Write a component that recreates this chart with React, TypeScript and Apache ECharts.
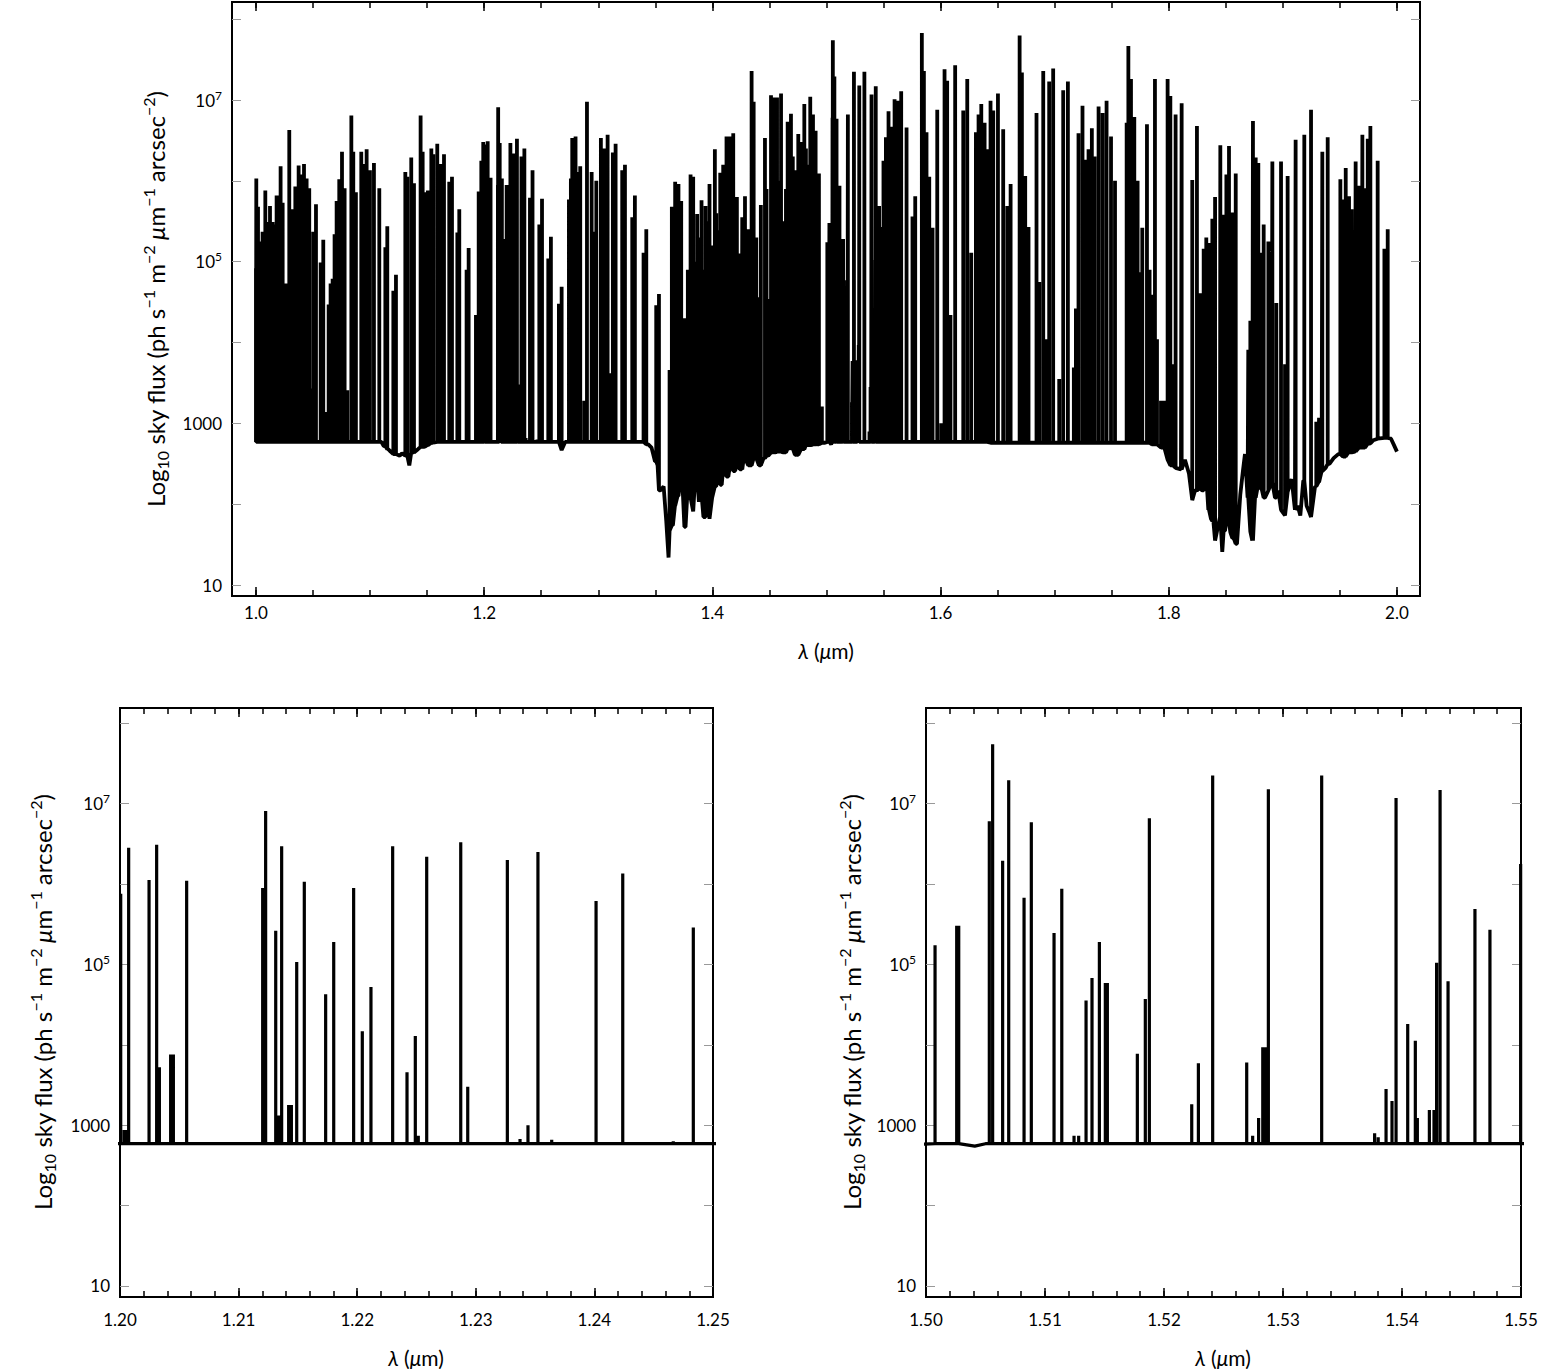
import React, { useEffect, useRef } from "react";
import * as echarts from "echarts";

// ---------- DATA (log10 of sky flux, wavelength in micron) ----------
// continuum / absorption envelope [lambda, log10 flux]
const CONTINUUM: [number, number][] = [
  [1.0, 2.77], [1.11, 2.77], [1.112, 2.72], [1.116, 2.68], [1.118, 2.65], [1.122, 2.62], [1.126, 2.6],
  [1.128, 2.63], [1.131, 2.6], [1.1344, 2.48], [1.137, 2.64], [1.142, 2.68], [1.146, 2.71], [1.15, 2.73],
  [1.155, 2.76], [1.16, 2.77], [1.266, 2.77], [1.2685, 2.67], [1.271, 2.77], [1.34, 2.77], [1.3438, 2.74],
  [1.3467, 2.7], [1.3497, 2.53], [1.352, 2.48], [1.3543, 2.17], [1.3573, 2.22], [1.3596, 1.79], [1.3616, 1.34],
  [1.3631, 1.67], [1.3654, 1.74], [1.3672, 1.98], [1.3695, 2.1], [1.3719, 2.36], [1.3742, 2.12], [1.3765, 1.72],
  [1.3789, 2.24], [1.3812, 2.08], [1.3836, 1.91], [1.3859, 2.34], [1.3882, 2.03], [1.3906, 2.12], [1.3929, 1.84],
  [1.3952, 2.05], [1.3976, 1.82], [1.3999, 2.08], [1.4023, 2.22], [1.4046, 2.4], [1.4069, 2.24], [1.4098, 2.45],
  [1.4128, 2.34], [1.4157, 2.48], [1.4186, 2.41], [1.4221, 2.53], [1.4256, 2.43], [1.4291, 2.57], [1.4326, 2.48],
  [1.4367, 2.57], [1.4408, 2.48], [1.4449, 2.57], [1.449, 2.6], [1.4537, 2.64], [1.4583, 2.65], [1.463, 2.64],
  [1.4683, 2.69], [1.4735, 2.61], [1.4782, 2.68], [1.484, 2.73], [1.4914, 2.74], [1.4987, 2.76], [1.502, 2.77],
  [1.5041, 2.74], [1.505, 2.77], [1.78, 2.76], [1.7879, 2.74], [1.7938, 2.7], [1.7996, 2.55], [1.8025, 2.48],
  [1.806, 2.45], [1.8107, 2.43], [1.8142, 2.55], [1.8177, 2.38], [1.8206, 2.05], [1.823, 2.17], [1.8265, 2.19],
  [1.8294, 2.17], [1.8323, 2.34], [1.8347, 1.93], [1.837, 1.82], [1.8391, 1.79], [1.8408, 1.55], [1.8428, 1.7],
  [1.8449, 1.84], [1.8469, 1.41], [1.8493, 1.67], [1.8516, 1.79], [1.854, 1.65], [1.8569, 1.58], [1.8598, 1.51],
  [1.8627, 2.12], [1.865, 2.41], [1.8668, 2.62], [1.8691, 2.08], [1.8715, 1.66], [1.8732, 1.55], [1.8756, 2.08],
  [1.8785, 2.26], [1.8814, 2.19], [1.8843, 2.08], [1.8873, 2.17], [1.8902, 2.27], [1.8931, 2.08], [1.896, 2.17],
  [1.8989, 1.93], [1.9019, 1.86], [1.9048, 2.15], [1.9077, 2.31], [1.9106, 1.93], [1.913, 1.98], [1.9153, 1.86],
  [1.9179, 2.29], [1.9208, 1.98], [1.9229, 1.91], [1.9252, 1.84], [1.9282, 2.22], [1.9311, 2.27], [1.934, 2.41],
  [1.9375, 2.45], [1.941, 2.5], [1.9445, 2.57], [1.9486, 2.62], [1.953, 2.59], [1.9574, 2.64], [1.9632, 2.65],
  [1.9691, 2.7], [1.9749, 2.75], [1.9793, 2.79], [1.9837, 2.81], [1.9895, 2.82], [1.9948, 2.81], [1.9971, 2.74],
  [2.0, 2.65],
];

// emission lines over the full range outside the two zoom windows [lambda, peak log10 flux]
const TOP_LINES: [number, number][] = [
  [1.0, 4.92], [1.0003, 6.03], [1.0018, 5.68], [1.0035, 5.25], [1.0058, 5.37], [1.0082, 5.88], [1.0099, 5.49],
  [1.0123, 5.69], [1.0146, 5.49], [1.0164, 5.46], [1.0181, 5.82], [1.0199, 5.82], [1.0216, 6.18], [1.0234, 5.73],
  [1.0263, 4.73], [1.0292, 6.63], [1.0321, 5.65], [1.0345, 5.93], [1.0374, 6.19], [1.0391, 6.08], [1.0421, 6.21],
  [1.0444, 6.03], [1.0467, 5.91], [1.0491, 3.43], [1.0502, 5.37], [1.0526, 5.71], [1.0567, 4.99], [1.059, 5.27],
  [1.0613, 3.14], [1.0637, 4.47], [1.0654, 4.73], [1.0672, 4.79], [1.0689, 5.34], [1.0707, 5.75], [1.073, 6.02],
  [1.0754, 6.36], [1.0777, 5.91], [1.08, 3.41], [1.0836, 6.81], [1.0853, 6.36], [1.0876, 5.86], [1.0923, 6.36],
  [1.0947, 6.21], [1.097, 6.39], [1.0999, 6.13], [1.1034, 6.22], [1.1081, 5.91], [1.1134, 5.18], [1.1151, 5.44],
  [1.1204, 4.64], [1.1227, 4.84], [1.1309, 6.11], [1.1326, 6.05], [1.1361, 6.29], [1.1385, 5.97], [1.1443, 6.81],
  [1.1461, 6.36], [1.1478, 5.86], [1.1507, 5.88], [1.1537, 6.4], [1.1554, 6.33], [1.1589, 6.46], [1.1618, 6.21],
  [1.1648, 6.33], [1.1694, 5.99], [1.1718, 6.05], [1.1765, 5.36], [1.1782, 5.65], [1.1846, 4.9], [1.1864, 5.17],
  [1.1928, 4.34], [1.1952, 5.87], [1.1975, 6.25], [1.1992, 6.48],
  [1.2507, 5.78], [1.2562, 5.04], [1.2585, 5.31], [1.2655, 4.48], [1.2679, 4.69], [1.2743, 5.77], [1.276, 6.03],
  [1.2772, 6.53], [1.2801, 6.55], [1.2825, 6.11], [1.2842, 6.18], [1.2877, 3.28], [1.2901, 6.98], [1.2942, 6.11],
  [1.2959, 5.37], [1.2983, 6.0], [1.3023, 6.53], [1.3053, 6.4], [1.3082, 6.57], [1.3105, 3.62], [1.3128, 6.35],
  [1.3152, 6.46], [1.321, 6.13], [1.3234, 6.2], [1.3298, 5.55], [1.3321, 5.82], [1.3397, 5.11], [1.3421, 5.4],
  [1.3508, 4.46], [1.3532, 4.6], [1.3625, 3.66], [1.3645, 5.68], [1.3674, 5.99], [1.3703, 5.96], [1.3727, 5.75],
  [1.3755, 4.3], [1.3785, 4.9], [1.3809, 6.08], [1.3832, 6.05], [1.385, 5.0], [1.3867, 5.59], [1.3885, 5.3],
  [1.3905, 5.76], [1.3922, 4.9], [1.394, 5.69], [1.3958, 5.5], [1.3975, 5.96], [1.3998, 5.2], [1.4022, 6.39],
  [1.4034, 5.6], [1.4045, 5.39], [1.4069, 6.1], [1.4082, 5.3], [1.4095, 6.2], [1.411, 5.9], [1.4124, 6.55],
  [1.414, 5.6], [1.4154, 6.55], [1.417, 5.8], [1.4183, 6.59], [1.42, 5.5], [1.4215, 5.8], [1.424, 5.1],
  [1.4262, 5.55], [1.4275, 5.0], [1.4286, 5.81], [1.4315, 5.4], [1.4344, 7.36], [1.4362, 6.98], [1.4385, 5.3],
  [1.4408, 4.56], [1.4425, 5.7], [1.4461, 6.53], [1.4475, 5.9], [1.449, 4.54], [1.4514, 7.06], [1.453, 6.2],
  [1.4543, 7.03], [1.4555, 6.4], [1.4567, 7.03], [1.4585, 6.0], [1.4602, 7.08], [1.4615, 5.5], [1.463, 4.18],
  [1.4645, 5.9], [1.466, 6.73], [1.4675, 6.1], [1.4689, 6.83], [1.4705, 6.3], [1.4724, 6.13], [1.474, 5.6],
  [1.4753, 6.58], [1.4777, 6.48], [1.4792, 5.9], [1.4806, 6.95], [1.482, 6.4], [1.4835, 6.2], [1.4858, 7.04],
  [1.487, 5.9], [1.4882, 6.82], [1.4905, 6.62], [1.492, 5.4], [1.4934, 6.09], [1.496, 3.21],
  [1.5521, 6.54], [1.5544, 6.86], [1.5568, 6.67], [1.5597, 7.01], [1.5626, 6.99], [1.5655, 7.11], [1.5702, 6.66],
  [1.5754, 5.56], [1.5778, 5.81], [1.5836, 7.83], [1.5854, 7.36], [1.5877, 6.6], [1.5901, 6.05], [1.593, 5.42],
  [1.5971, 6.88], [1.6006, 3.0], [1.6035, 7.38], [1.6058, 7.24], [1.6087, 4.34], [1.6128, 7.43], [1.6199, 6.87],
  [1.6234, 7.26], [1.6269, 5.11], [1.631, 6.6], [1.6333, 6.82], [1.6357, 6.95], [1.6386, 6.72], [1.6409, 6.39],
  [1.6438, 6.99], [1.6462, 6.87], [1.6503, 7.08], [1.6549, 6.64], [1.6585, 5.69], [1.6614, 5.96], [1.6693, 7.8],
  [1.6713, 7.34], [1.6742, 6.06], [1.6771, 5.43], [1.6841, 6.84], [1.6865, 4.75], [1.69, 7.36], [1.6929, 4.04],
  [1.6952, 7.23], [1.6987, 7.39], [1.704, 3.55], [1.7075, 7.12], [1.7116, 7.23], [1.7168, 3.69], [1.7186, 4.42],
  [1.7209, 6.59], [1.7244, 6.93], [1.7273, 6.26], [1.7297, 6.39], [1.7326, 6.65], [1.735, 6.3], [1.7385, 6.92],
  [1.742, 6.84], [1.7455, 6.99], [1.7494, 6.55], [1.7529, 6.0], [1.7631, 6.72], [1.7646, 7.67], [1.7669, 7.26],
  [1.7698, 6.79], [1.7727, 6.0], [1.7745, 4.87], [1.7768, 5.42], [1.7809, 6.7], [1.7832, 4.9], [1.785, 4.59],
  [1.7879, 7.26], [1.7897, 4.04], [1.7932, 3.28], [1.7961, 3.28], [1.799, 7.26], [1.8014, 7.05], [1.8037, 3.73],
  [1.806, 6.82], [1.8113, 6.96], [1.8206, 6.01], [1.8247, 6.68], [1.8277, 4.61], [1.8306, 5.16], [1.8329, 5.3],
  [1.8353, 5.23], [1.8382, 5.53], [1.8406, 5.8], [1.8452, 6.44], [1.8481, 5.58], [1.8505, 6.08], [1.8528, 6.43],
  [1.8557, 5.61], [1.8587, 6.09], [1.8697, 3.91], [1.8715, 4.27], [1.8738, 6.74], [1.8762, 6.29], [1.8785, 6.22],
  [1.8803, 5.11], [1.8832, 5.46], [1.8873, 5.25], [1.8908, 6.24], [1.8943, 4.49], [1.8984, 6.24], [1.9019, 3.73],
  [1.9042, 6.06], [1.9112, 6.51], [1.9188, 6.57], [1.9247, 6.88], [1.9293, 3.02], [1.9317, 3.07], [1.9346, 6.36],
  [1.9393, 6.54], [1.9504, 6.02], [1.9527, 5.77], [1.9551, 6.16], [1.958, 5.81], [1.9603, 5.65], [1.9638, 6.24],
  [1.9668, 5.94], [1.9697, 6.57], [1.972, 5.91], [1.9744, 6.52], [1.9767, 6.68], [1.9831, 6.25], [1.989, 5.16],
  [1.9919, 5.4],
];

// lines inside the J window 1.20–1.25 micron
const J_LINES: [number, number][] = [
  [1.20006, 5.88], [1.20035, 2.94], [1.2005, 2.94], [1.20073, 6.45], [1.20245, 6.05], [1.20309, 6.49],
  [1.20332, 3.72], [1.20427, 3.88], [1.2045, 3.88], [1.20562, 6.04], [1.21203, 5.95], [1.21228, 6.91],
  [1.21313, 5.42], [1.21338, 3.12], [1.21363, 6.47], [1.21422, 3.25], [1.21445, 3.25], [1.2149, 5.03],
  [1.21554, 6.03], [1.21734, 4.63], [1.21802, 5.28], [1.2197, 5.95], [1.22043, 4.17], [1.22116, 4.72],
  [1.22299, 6.47], [1.2242, 3.66], [1.2249, 4.11], [1.22515, 2.87], [1.22586, 6.34], [1.22873, 6.52],
  [1.22932, 3.48], [1.23266, 6.3], [1.23373, 2.83], [1.2344, 3.0], [1.23524, 6.4], [1.2364, 2.82],
  [1.24014, 5.79], [1.24239, 6.13], [1.24665, 2.8], [1.24834, 5.46],
];

// lines inside the H window 1.50–1.55 micron
const H_LINES: [number, number][] = [
  [1.50076, 5.24], [1.50258, 5.48], [1.50275, 5.48], [1.50532, 6.78], [1.5056, 7.74], [1.50644, 6.29],
  [1.50695, 7.29], [1.50824, 5.83], [1.50885, 6.77], [1.51076, 5.39], [1.51141, 5.94], [1.51244, 2.87],
  [1.51283, 2.87], [1.51345, 4.55], [1.51395, 4.83], [1.51457, 5.28], [1.51507, 4.77], [1.51524, 4.77],
  [1.51776, 3.89], [1.51843, 4.57], [1.51877, 6.82], [1.52233, 3.26], [1.52289, 3.77], [1.52409, 7.35],
  [1.52695, 3.78], [1.52745, 2.87], [1.52795, 3.09], [1.5283, 3.97], [1.52857, 3.97], [1.52877, 7.18],
  [1.53325, 7.35], [1.5377, 2.9], [1.538, 2.85], [1.53866, 3.45], [1.53916, 3.3], [1.5395, 7.07],
  [1.54048, 4.26], [1.54112, 4.05], [1.54129, 3.09], [1.5423, 3.19], [1.54269, 3.19], [1.54291, 5.02],
  [1.5432, 7.17], [1.54387, 4.79], [1.54613, 5.69], [1.54739, 5.43], [1.54997, 6.25],
];

// axis ticks / labels
const TOP_X_LABELS = [1.0, 1.2, 1.4, 1.6, 1.8, 2.0];
const TOP_X_MINOR = [1.0, 1.05, 1.1, 1.15, 1.2, 1.25, 1.3, 1.35, 1.4, 1.45, 1.5, 1.55, 1.6, 1.65, 1.7, 1.75, 1.8, 1.85, 1.9, 1.95, 2.0];
const J_X_LABELS = [1.2, 1.21, 1.22, 1.23, 1.24, 1.25];
const J_X_MINOR = [1.2, 1.202, 1.204, 1.206, 1.208, 1.21, 1.212, 1.214, 1.216, 1.218, 1.22, 1.222, 1.224, 1.226, 1.228, 1.23, 1.232, 1.234, 1.236, 1.238, 1.24, 1.242, 1.244, 1.246, 1.248, 1.25];
const H_X_LABELS = [1.5, 1.51, 1.52, 1.53, 1.54, 1.55];
const H_X_MINOR = [1.5, 1.502, 1.504, 1.506, 1.508, 1.51, 1.512, 1.514, 1.516, 1.518, 1.52, 1.522, 1.524, 1.526, 1.528, 1.53, 1.532, 1.534, 1.536, 1.538, 1.54, 1.542, 1.544, 1.546, 1.548, 1.55];
const Y_TICKS = [1, 2, 3, 4, 5, 6, 7, 8];
const Y_LABELS = [1, 3, 5, 7];

const FONT = 'Lato, "Open Sans", "DejaVu Sans", sans-serif';

function buildSpectrum(): [number, number][] {
  const baseAt = (l: number) => {
    let best = CONTINUUM[0];
    for (const c of CONTINUUM) if (Math.abs(c[0] - l) < Math.abs(best[0] - l)) best = c;
    return best[1];
  };
  const entries: { l: number; pts: [number, number][] }[] = [];
  for (const c of CONTINUUM) entries.push({ l: c[0], pts: [[c[0], c[1]]] });
  for (const [l, p] of [...TOP_LINES, ...J_LINES, ...H_LINES]) {
    const b = baseAt(l);
    entries.push({ l, pts: [[l, b], [l, p], [l, b]] });
  }
  entries.sort((a, b) => a.l - b.l);
  const out: [number, number][] = [];
  for (const e of entries) for (const p of e.pts) out.push(p);
  return out;
}

const Y_TITLE =
  "{n|Log}{sub|10}{n| sky flux (ph s}{sup|−1}{n| m}{sup|−2}{i| μ}{n|m}{sup|−1}{n| arcsec}{sup|−2}{n|)}";
const X_TITLE = "{i|λ}{n| (}{i|μ}{n|m)}";

const titleRich = (size: number) => ({
  n: { fontSize: size, fontFamily: FONT, fill: "#000", lineHeight: size + 6 },
  i: { fontSize: size, fontFamily: FONT, fontStyle: "italic", fill: "#000", lineHeight: size + 6 },
  sup: { fontSize: Math.round(size * 0.65), fontFamily: FONT, fill: "#000", verticalAlign: "top", lineHeight: Math.round(size * 0.65) },
  sub: { fontSize: Math.round(size * 0.65), fontFamily: FONT, fill: "#000", verticalAlign: "bottom", lineHeight: Math.round(size * 0.65) },
});

export default function App() {
  const ref = useRef<HTMLDivElement>(null);
  useEffect(() => {
    if (!ref.current) return;
    const chart = echarts.init(ref.current, undefined, { renderer: "svg" });
    const spectrum = buildSpectrum();

    const grids = [
      { left: 232, top: 2, width: 1188, height: 594, x: [0.979, 2.0202], y: [0.864, 8.213], labels: TOP_X_LABELS, minor: TOP_X_MINOR, dec: 1, margin: 8, lw: 3.8 },
      { left: 120, top: 708, width: 593, height: 589, x: [1.2, 1.25], y: [0.863, 8.19], labels: J_X_LABELS, minor: J_X_MINOR, dec: 2, margin: 14, lw: 3.2 },
      { left: 926, top: 708, width: 595, height: 589, x: [1.5, 1.55], y: [0.863, 8.19], labels: H_X_LABELS, minor: H_X_MINOR, dec: 2, margin: 14, lw: 3.2 },
    ];

    const xAxis: any[] = [];
    const yAxis: any[] = [];
    const series: any[] = [];
    grids.forEach((g, gi) => {
      const cx = { type: "value", gridIndex: gi, min: g.x[0], max: g.x[1], splitLine: { show: false }, axisLine: { show: false } };
      const tick = (vals: number[], len: number) => ({ show: true, inside: true, length: len, customValues: vals, lineStyle: { color: "#000", width: 1.5 } });
      xAxis.push({
        ...cx, position: "bottom", axisTick: tick(g.labels, 9),
        axisLabel: { show: true, customValues: g.labels, margin: g.margin, formatter: (v: number) => v.toFixed(g.dec), fontSize: 17, fontFamily: FONT, color: "#000" },
      });
      xAxis.push({ ...cx, position: "bottom", axisTick: tick(g.minor, 6), axisLabel: { show: false } });
      xAxis.push({ ...cx, position: "top", axisTick: tick(g.labels, 9), axisLabel: { show: false } });
      xAxis.push({ ...cx, position: "top", axisTick: tick(g.minor, 6), axisLabel: { show: false } });
      const cy = {
        type: "value", gridIndex: gi, min: g.y[0], max: g.y[1], splitLine: { show: false }, axisLine: { show: false },
        axisTick: { show: true, inside: true, length: 9, customValues: Y_TICKS, lineStyle: { color: "#999", width: 1 } },
      };
      yAxis.push({
        ...cy, position: "left",
        axisLabel: {
          show: true, customValues: Y_LABELS, margin: 10,
          formatter: (v: number) => (v === 1 ? "{b|10}" : v === 3 ? "{b|1000}" : `{b|10}{s|${v}}`),
          rich: {
            b: { fontSize: 17, fontFamily: FONT, color: "#000", lineHeight: 22 },
            s: { fontSize: 12, fontFamily: FONT, color: "#000", verticalAlign: "top", lineHeight: 12 },
          },
        },
      });
      yAxis.push({ ...cy, position: "right", axisLabel: { show: false } });
      series.push({
        type: "line", xAxisIndex: gi * 4, yAxisIndex: gi * 2, data: spectrum, showSymbol: false, symbol: "none",
        clip: true, lineStyle: { color: "#000", width: g.lw, join: "bevel" }, silent: true,
      });
    });

    const yTitle = (x: number, y: number) => ({
      type: "text", x, y, rotation: Math.PI / 2,
      style: { text: Y_TITLE, rich: titleRich(24), fontSize: 24, fontFamily: FONT, fill: "#000", align: "center", verticalAlign: "middle" },
    });
    const xTitle = (x: number, y: number) => ({
      type: "text", x, y,
      style: { text: X_TITLE, rich: titleRich(21), fontSize: 21, fontFamily: FONT, fill: "#000", align: "center", verticalAlign: "middle" },
    });

    chart.setOption({
      animation: false,
      backgroundColor: "#fff",
      grid: grids.map((g) => ({ left: g.left, top: g.top, width: g.width, height: g.height, show: true, borderColor: "#000", borderWidth: 2, backgroundColor: "transparent" })),
      xAxis,
      yAxis,
      series,
      graphic: [
        yTitle(155, 299), yTitle(42, 1002), yTitle(851, 1002),
        xTitle(826, 650), xTitle(416, 1357), xTitle(1223, 1357),
      ],
    });
    return () => chart.dispose();
  }, []);
  return <div ref={ref} style={{ position: "absolute", left: 0, top: 0, width: 1563, height: 1369 }} />;
}
